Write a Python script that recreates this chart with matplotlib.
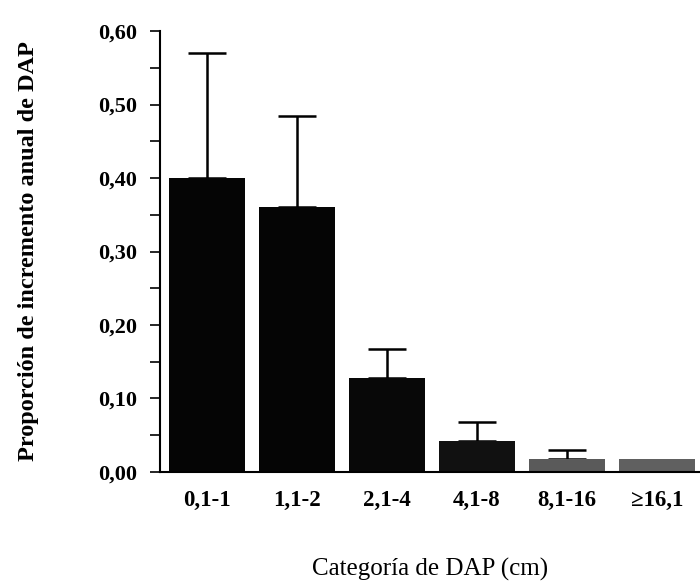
import numpy as np
import matplotlib
matplotlib.use('Agg')
import matplotlib.pyplot as plt
from matplotlib.ticker import MultipleLocator, FuncFormatter

# Annual DBH increment by diameter class
categorias = ['0,1-1', '1,1-2', '2,1-4', '4,1-8', '8,1-16', '\u226516,1']
media = [0.40, 0.36, 0.128, 0.042, 0.018, 0.018]
error_sup = [0.17, 0.125, 0.04, 0.026, 0.012, 0.0]
colores = ['#050505', '#050505', '#080808', '#111111', '#5a5a5a', '#606060']

plt.rcParams['font.family'] = ['Liberation Serif', 'DejaVu Serif']

fig = plt.figure(figsize=(7, 5.87), dpi=100)
ax = fig.add_axes([0.229, 0.196, 0.771, 0.751])

x = np.arange(len(categorias))
ax.bar(x, media, width=0.84, color=colores, edgecolor='none', zorder=2)

# only the upper half of each error bar is drawn
con_error = [i for i in range(len(x)) if error_sup[i] > 0]
ax.errorbar(x[con_error], np.array(media)[con_error],
            yerr=[np.zeros(len(con_error)), np.array(error_sup)[con_error]],
            fmt='none', ecolor='black', elinewidth=1.8, capsize=14,
            capthick=1.8, zorder=1)

ax.set_xlim(-0.52, 5.48)
ax.set_ylim(0, 0.6)
ax.set_xticks(x)
ax.set_xticklabels(categorias, fontsize=16.5, fontweight='bold')
ax.tick_params(axis='x', length=0, pad=13)

ax.yaxis.set_major_locator(MultipleLocator(0.1))
ax.yaxis.set_minor_locator(MultipleLocator(0.05))
ax.yaxis.set_major_formatter(FuncFormatter(lambda v, p: f'{v:.2f}'.replace('.', ',')))
ax.tick_params(axis='y', which='both', direction='out', length=7, width=1.2,
               labelsize=16, pad=10)
for lab in ax.get_yticklabels():
    lab.set_fontweight('bold')

for side in ['top', 'right']:
    ax.spines[side].set_visible(False)
ax.spines['left'].set_linewidth(1.5)
ax.spines['bottom'].set_linewidth(1.5)

ax.set_ylabel('Proporción de incremento anual de DAP', fontsize=17.5,
              fontweight='bold', labelpad=42)
ax.set_xlabel('Categoría de DAP (cm)', fontsize=18, labelpad=34)

fig.savefig('out.png', dpi=100)
